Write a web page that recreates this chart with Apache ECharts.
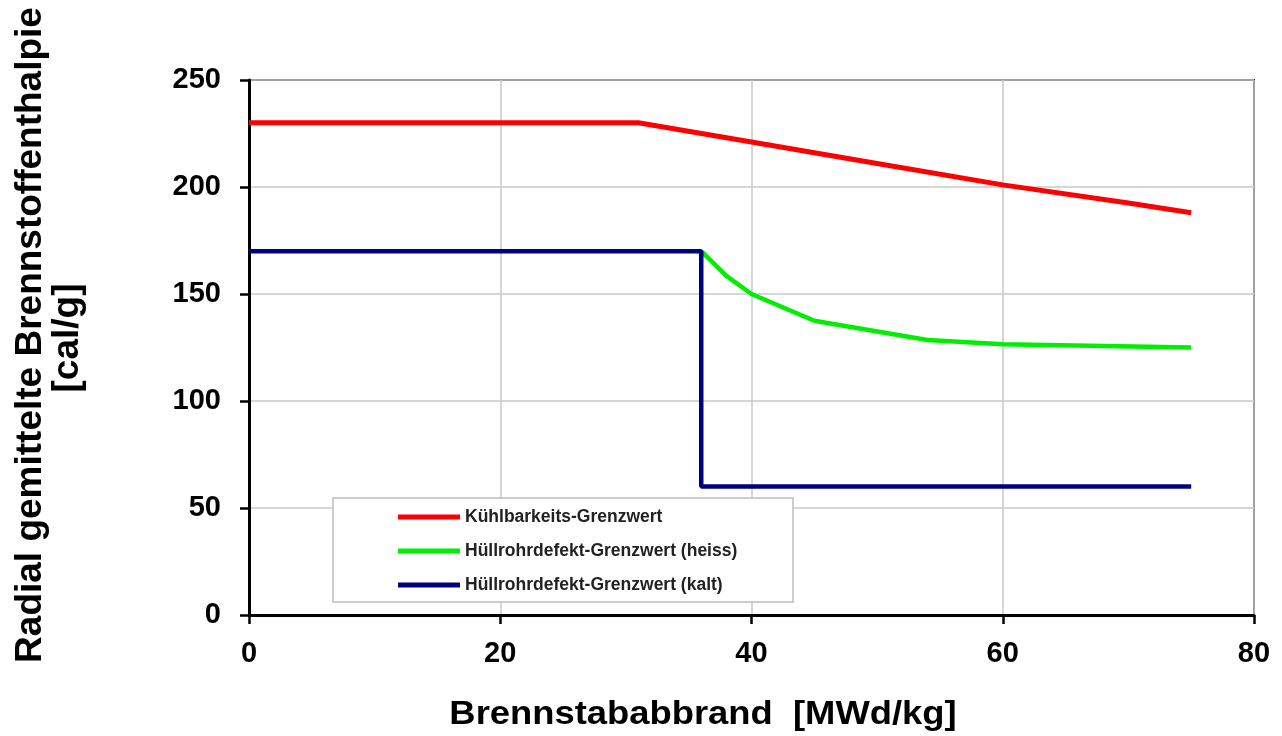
<!DOCTYPE html>
<html>
<head>
<meta charset="utf-8">
<script src="https://cdn.jsdelivr.net/npm/echarts@6/dist/echarts.min.js"></script>
<style>
html,body{margin:0;padding:0;background:#fff;}
#chart{width:1282px;height:736px;}
</style>
</head>
<body>
<div id="chart"></div>
<script>
// ---- data ----
const seriesNames = ['Kühlbarkeits-Grenzwert', 'Hüllrohrdefekt-Grenzwert (heiss)', 'Hüllrohrdefekt-Grenzwert (kalt)'];
const redX = [0, 31, 40, 50, 60, 70, 75];
const redY = [230, 230, 221, 211, 201, 192.5, 188];
const greenX = [36, 38, 40, 45, 54, 60, 75];
const greenY = [170, 158.5, 150, 137.5, 128.5, 126.5, 125];
const blueX = [0, 36, 36, 75];
const blueY = [170, 170, 60, 60];
const xTicks = [0, 20, 40, 60, 80];
const yTicks = [0, 50, 100, 150, 200, 250];
const xTitle = 'Brennstababbrand  [MWd/kg]';
const yTitle1 = 'Radial gemittelte Brennstoffenthalpie';
const yTitle2 = '[cal/g]';

function pairs(xs, ys) { return xs.map((x, i) => [x, ys[i]]); }

const FONT = "'Liberation Sans', Arial, sans-serif";
const chart = echarts.init(document.getElementById('chart'));
const lineW = 4.5;

chart.setOption({
  animation: false,
  textStyle: { fontFamily: FONT },
  grid: { left: 249, right: 28, top: 80, bottom: 121, show: true, borderColor: '#333', borderWidth: 2, backgroundColor: 'transparent' },
  xAxis: {
    type: 'value', min: xTicks[0], max: xTicks[xTicks.length - 1], interval: 20,
    axisLine: { show: true, onZero: false, lineStyle: { color: '#000', width: 3 } },
    axisTick: { show: true, inside: false, length: 9, lineStyle: { color: '#000', width: 2.5 } },
    axisLabel: { margin: 24, fontSize: 29, fontWeight: 'bold', color: '#000', fontFamily: FONT },
    splitLine: { show: true, lineStyle: { color: '#c8c8c8', width: 1.5 } }
  },
  yAxis: {
    type: 'value', min: yTicks[0], max: yTicks[yTicks.length - 1], interval: 50,
    axisLine: { show: true, onZero: false, lineStyle: { color: '#000', width: 3 } },
    axisTick: { show: true, inside: false, length: 9, lineStyle: { color: '#000', width: 2.5 } },
    axisLabel: { margin: 28, fontSize: 29, fontWeight: 'bold', color: '#000', fontFamily: FONT },
    splitLine: { show: true, lineStyle: { color: '#c8c8c8', width: 1.5 } }
  },
  legend: {
    orient: 'vertical', left: 393, top: 503, z: 60, icon: 'rect', itemWidth: 62, itemHeight: 5, itemGap: 16,
    textStyle: { fontSize: 17.5, fontWeight: 'bold', color: '#222', fontFamily: FONT },
    data: seriesNames
  },
  graphic: [
    { type: 'rect', x: 333, y: 498, z: 50, shape: { width: 460, height: 104 }, style: { fill: '#fff', stroke: '#bdbdbd', lineWidth: 1.5 } },
    { type: 'text', x: 703, y: 715, scaleX: 1.07, z: 50, style: { text: xTitle, font: 'bold 34px ' + FONT, fill: '#000', align: 'center', verticalAlign: 'middle' } },
    { type: 'text', x: 31, y: 335, rotation: Math.PI / 2, z: 50, style: { text: yTitle1, font: 'bold 37px ' + FONT, fill: '#000', align: 'center', verticalAlign: 'middle' } },
    { type: 'text', x: 68, y: 338, rotation: Math.PI / 2, z: 50, style: { text: yTitle2, font: 'bold 37px ' + FONT, fill: '#000', align: 'center', verticalAlign: 'middle' } }
  ],
  series: [
    { name: seriesNames[0], type: 'line', data: pairs(redX, redY), symbol: 'none', color: '#ff0000', lineStyle: { width: 5, color: '#ff0000' }, z: 3 },
    { name: seriesNames[1], type: 'line', data: pairs(greenX, greenY), symbol: 'none', color: '#00ee00', lineStyle: { width: lineW, color: '#00ee00' }, z: 3 },
    { name: seriesNames[2], type: 'line', data: pairs(blueX, blueY), symbol: 'none', color: '#00007f', lineStyle: { width: lineW, color: '#00007f' }, z: 4 }
  ]
});
</script>
</body>
</html>
